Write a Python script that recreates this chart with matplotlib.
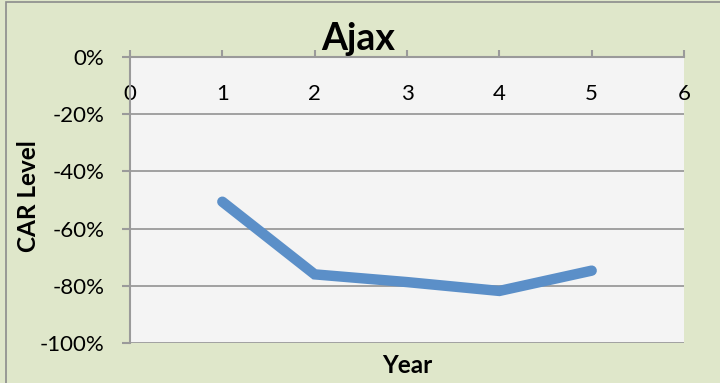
import matplotlib.pyplot as plt
from matplotlib.patches import Rectangle
from matplotlib.ticker import PercentFormatter

plt.rcParams['font.family'] = ['Lato', 'DejaVu Sans']
plt.rcParams['axes.unicode_minus'] = False

# data
years = [1, 2, 3, 4, 5]
car_level = [-50.6, -76.0, -78.7, -81.8, -74.7]
x_ticks = [0, 1, 2, 3, 4, 5, 6]
y_ticks = [0, -20, -40, -60, -80, -100]

fig = plt.figure(figsize=(7.2, 3.83), dpi=100)
fig.patch.set_facecolor('#dfe7ca')
fig.patches.append(Rectangle((6 / 720, -0.1), 1.2, 1 - 2 / 383 + 0.1,
                             transform=fig.transFigure, fill=False,
                             edgecolor='#8c8c8c', linewidth=1.2))

ax = fig.add_axes([130 / 720, 1 - 343 / 383, (684 - 130) / 720, (343 - 57) / 383])
ax.set_facecolor('#f4f4f4')

ax.plot(years, car_level, color='#5b8fc8', linewidth=7.5,
        solid_capstyle='round', solid_joinstyle='miter')

ax.set_xlim(0, 6)
ax.set_ylim(-100, 0)
ax.set_xticks(x_ticks)
ax.set_yticks(y_ticks)
ax.yaxis.set_major_formatter(PercentFormatter(decimals=0))
ax.grid(axis='y', color='#9a9a9a', linewidth=1.3)
ax.set_axisbelow(True)

for s in ['right', 'bottom']:
    ax.spines[s].set_visible(False)
for s in ['top', 'left']:
    ax.spines[s].set_color('#9a9a9a')
    ax.spines[s].set_linewidth(1.5)

ax.tick_params(axis='x', top=True, bottom=False, labeltop=True, labelbottom=False,
               direction='out', length=5, width=1.5, color='#9a9a9a',
               pad=-39, labelsize=16)
ax.tick_params(axis='y', direction='out', length=5.5, width=1.5, color='#9a9a9a',
               labelsize=16, pad=13)

fig.text(358 / 720, 1 - 50 / 383, 'Ajax', fontsize=27, fontweight='bold',
         ha='center', va='baseline')
fig.text(28 / 720, 1 - 196.5 / 383, 'CAR Level', fontsize=17.5, fontweight='bold',
         rotation=90, ha='center', va='center')
fig.text((130 + 684) / 2 / 720, 1 - 365.5 / 383, 'Year', fontsize=17.5,
         fontweight='bold', ha='center', va='center')

fig.savefig('out.png', dpi=100, facecolor=fig.get_facecolor())
